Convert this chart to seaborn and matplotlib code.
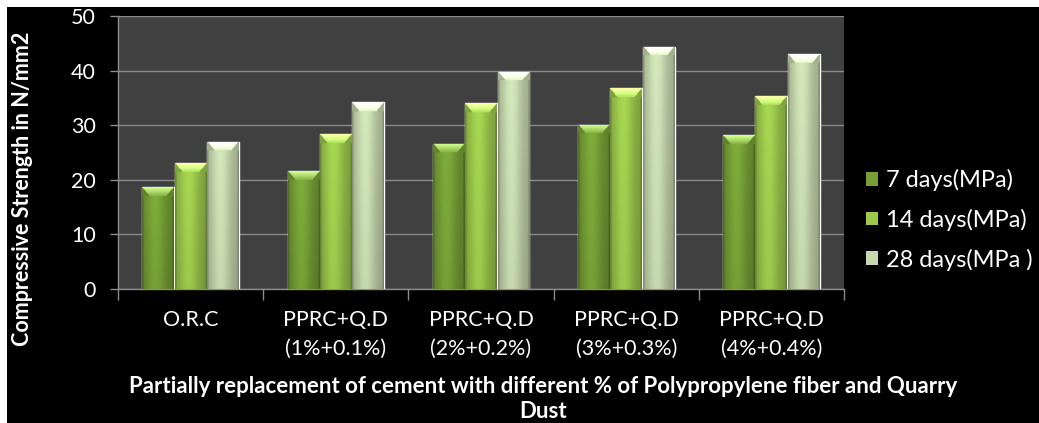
import numpy as np
import pandas as pd
import matplotlib
matplotlib.use("Agg")
import matplotlib.pyplot as plt
import matplotlib.colors as mcolors
from matplotlib.patches import Patch, Rectangle
import seaborn as sns

# Mix designs and curing ages
categories = ["O.R.C", "PPRC+Q.D\n(1%+0.1%)", "PPRC+Q.D\n(2%+0.2%)",
              "PPRC+Q.D\n(3%+0.3%)", "PPRC+Q.D\n(4%+0.4%)"]
ages = ["7 days(MPa)", "14 days(MPa)", "28 days(MPa )"]

# Compressive strength (N/mm2)
strength_7 = [18.6, 21.6, 26.6, 30.1, 28.2]
strength_14 = [23.0, 28.3, 34.0, 36.8, 35.3]
strength_28 = [27.0, 34.2, 39.8, 44.4, 43.0]

bar_colors = ["#76a036", "#9cc84c", "#c6d8ae"]
y_ticks = [0, 10, 20, 30, 40, 50]

df = pd.DataFrame({
    "mix": categories * 3,
    "age": [a for a in ages for _ in categories],
    "strength": strength_7 + strength_14 + strength_28,
})

sns.set_theme(style="dark")
plt.rcParams["font.family"] = ["Lato", "DejaVu Sans"]

fig = plt.figure(figsize=(10.39, 4.23), dpi=100, facecolor="black")
ax = fig.add_axes([0.1136, 0.3168, 0.6987, 0.6454])
ax.set_facecolor("#404040")

sns.barplot(data=df, x="mix", y="strength", hue="age", order=categories,
            hue_order=ages, palette=bar_colors, width=0.67, gap=0.02,
            saturation=1, ax=ax, legend=False, zorder=3)

ax.set_ylim(0, 50)
ax.set_xlim(-0.5, len(categories) - 0.5)
ax.set_yticks(y_ticks)
ax.yaxis.grid(True, color="#8a8a8a", linewidth=1.0, zorder=0)
ax.xaxis.grid(False)
ax.set_axisbelow(True)


def shaded_bar(base, nx=40, ny=240, bevel_px=9, height_px=100):
    """RGB image of a bevelled bar: darker sides, light top chamfer."""
    rgb = np.array(mcolors.to_rgb(base))
    x = np.linspace(0, 1, nx)
    # horizontal shading: dark edges, bright centre-left
    prof = 0.80 + 0.28 * np.exp(-((x - 0.42) / 0.33) ** 2)
    prof[:2] *= 0.82
    prof[-2:] *= 0.82
    img = np.clip(rgb[None, None, :] * prof[None, :, None], 0, 1)
    img = np.repeat(img, ny, axis=0)
    # top chamfer: light face narrowing downward, darker side facets
    nb = max(2, int(round(ny * bevel_px / max(height_px, 1))))
    for r in range(min(nb, ny)):
        frac = r / nb
        edge = frac * 0.24
        for c in range(nx):
            xc = x[c]
            if edge <= xc <= 1 - edge:
                img[r, c] = np.clip(rgb * 1.05 + (1 - frac) * 0.32 + 0.04, 0, 1)
            else:
                img[r, c] = np.clip(rgb * 0.82, 0, 1)
    # soft fade toward the base
    fade = np.linspace(1.0, 0.93, ny)
    img = img * fade[:, None, None]
    return np.clip(img, 0, 1)


px_per_unit = ax.get_position().height * fig.get_size_inches()[1] * fig.dpi / 50
for patch, color in zip(ax.patches, [c for c in bar_colors for _ in categories]):
    x0, y0 = patch.get_x(), patch.get_y()
    w, h = patch.get_width(), patch.get_height()
    if h <= 0:
        continue
    img = shaded_bar(color, height_px=h * px_per_unit)
    im = ax.imshow(img, extent=[x0, x0 + w, y0, y0 + h], aspect="auto",
                   origin="upper", zorder=4, interpolation="bilinear")
    im.set_clip_path(patch)
ax.set_xlim(-0.5, len(categories) - 0.5)
ax.set_ylim(0, 50)

# axes styling
for side in ["top", "right"]:
    ax.spines[side].set_visible(False)
for side in ["left", "bottom"]:
    ax.spines[side].set_visible(True)
    ax.spines[side].set_color("#8c8c8c")
    ax.spines[side].set_linewidth(1.0)
ax.set_xticks(np.arange(-0.5, len(categories), 1.0), minor=True)
ax.tick_params(axis="x", which="minor", length=8, color="#8c8c8c", width=1,
               bottom=True, direction="out")
ax.tick_params(axis="x", which="major", length=0, colors="white",
               labelsize=15.5, pad=15)
ax.tick_params(axis="y", length=6, color="#8c8c8c", width=1, left=True,
               direction="out", colors="white", labelsize=15.5, pad=10)
for lab in ax.get_yticklabels():
    lab.set_color("white")
for lab in ax.get_xticklabels():
    lab.set_color("white")
    lab.set_linespacing(1.55)

ax.set_xlabel("Partially replacement of cement with different % of Polypropylene fiber and Quarry\nDust",
              color="white", fontsize=16, fontweight="bold", linespacing=1.25)
ax.xaxis.set_label_coords(0.585, -0.318)
ax.xaxis.label.set_verticalalignment("top")
ax.set_ylabel("Compressive Strength in N/mm2", color="white", fontsize=15.5,
              fontweight="bold")
ax.yaxis.set_label_coords(-0.117, 0.368)

handles = [Patch(facecolor=c, edgecolor="none") for c in bar_colors]
leg = fig.legend(handles, ages, loc="center left",
                 bbox_to_anchor=(0.813, 0.48), frameon=False, fontsize=17,
                 handlelength=0.5, handleheight=0.5, handletextpad=0.35,
                 labelspacing=0.74)
for t in leg.get_texts():
    t.set_color("white")

# white margin strips along the top and left edges
fig.patches.append(Rectangle((0, 1 - 7 / 423), 1, 7 / 423, transform=fig.transFigure,
                             facecolor="white", edgecolor="none", zorder=10))
fig.patches.append(Rectangle((0, 0), 7 / 1039, 1, transform=fig.transFigure,
                             facecolor="white", edgecolor="none", zorder=10))

fig.savefig("out.png", dpi=100, facecolor="black")
